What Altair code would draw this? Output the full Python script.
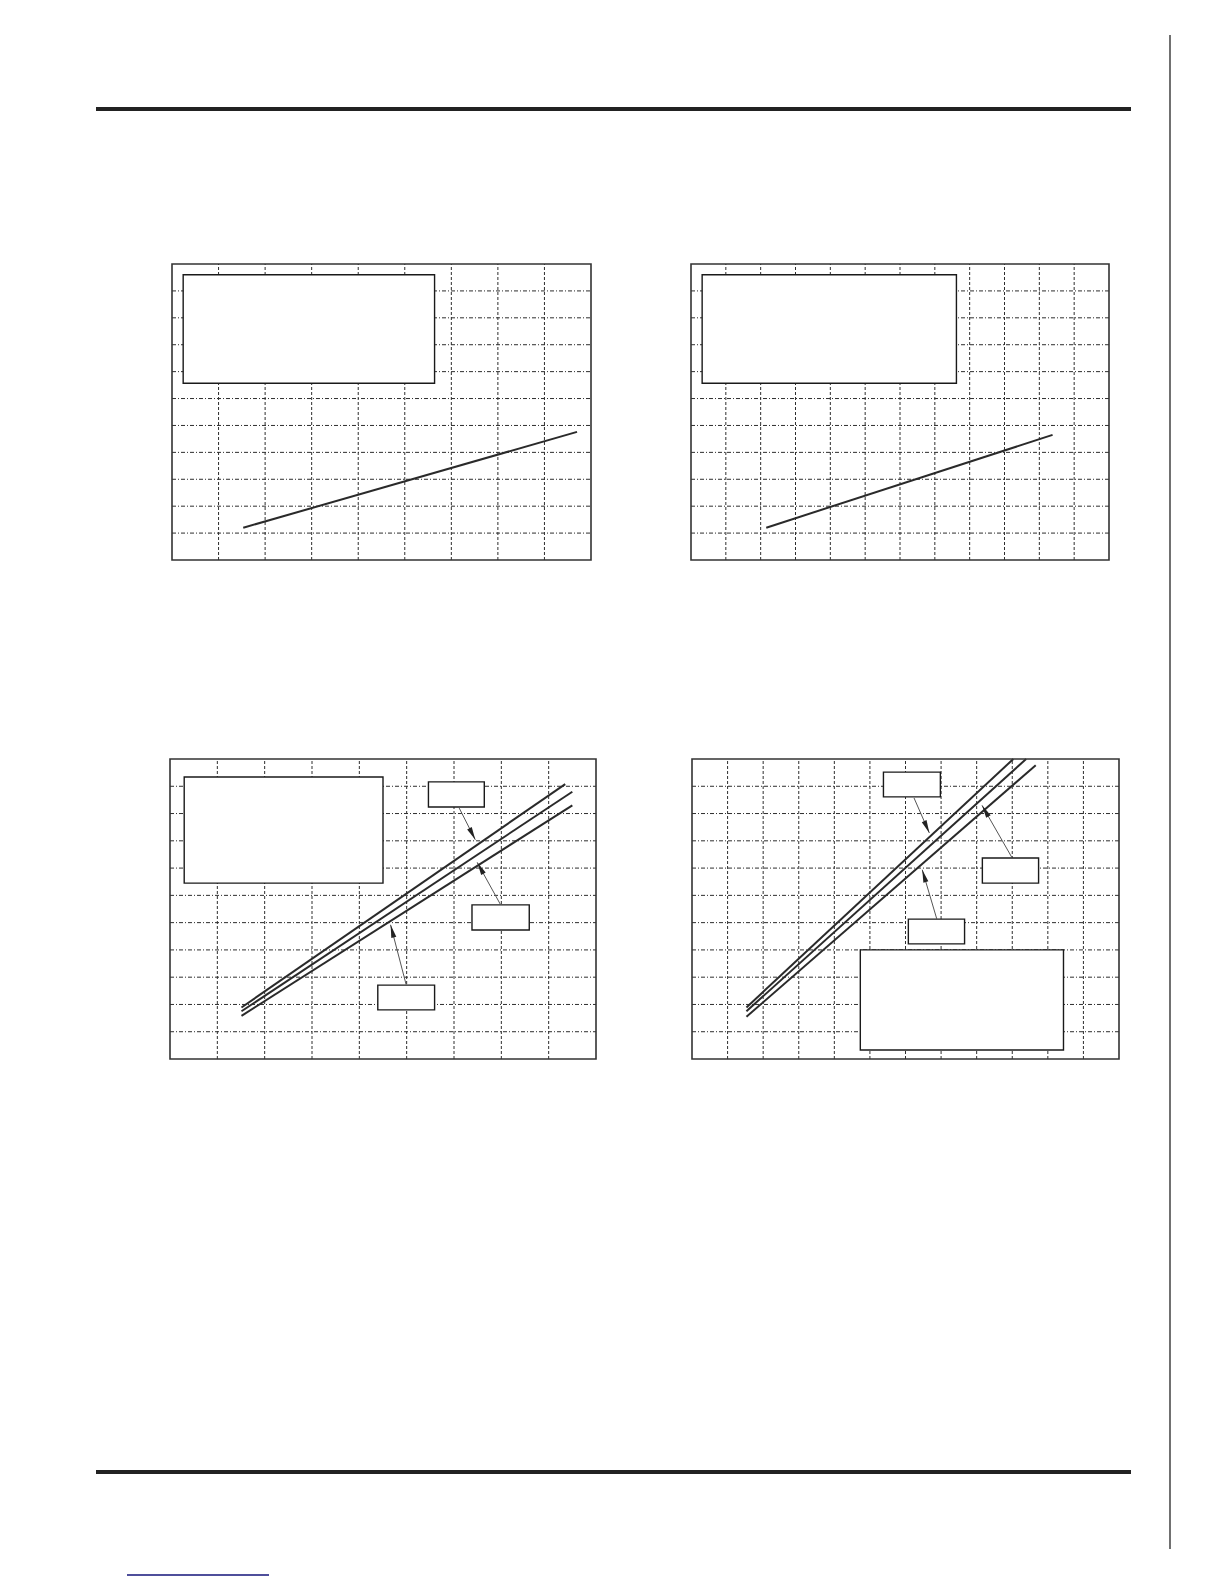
import math
import altair as alt
import pandas as pd

# ---------------- data (grid units) ----------------
# panel order: top-left, top-right, bottom-left, bottom-right
panel_cols = [9, 12, 9, 12]
panel_rows = [11, 11, 11, 11]

# line series: id, x, y (two end points each)
tl_line_id = ["a", "a"]
tl_line_x = [1.53, 8.70]
tl_line_y = [1.20, 4.76]

tr_line_id = ["a", "a"]
tr_line_x = [2.16, 10.38]
tr_line_y = [1.20, 4.65]

bl_line_id = ["a", "a", "b", "b", "c", "c"]
bl_line_x = [1.51, 8.35, 1.51, 8.50, 1.51, 8.50]
bl_line_y = [1.89, 10.08, 1.75, 9.80, 1.58, 9.30]

br_line_id = ["a", "a", "b", "b", "c", "c"]
br_line_x = [1.53, 9.03, 1.53, 9.39, 1.53, 9.66]
br_line_y = [1.89, 11.00, 1.75, 11.00, 1.55, 10.77]

# legend / label boxes: x0, x1, y0, y1
tl_box_x0 = [0.24]; tl_box_x1 = [5.64]; tl_box_y0 = [6.57]; tl_box_y1 = [10.60]
tr_box_x0 = [0.32]; tr_box_x1 = [7.62]; tr_box_y0 = [6.57]; tr_box_y1 = [10.60]
bl_box_x0 = [0.30, 5.46, 6.38, 4.39]
bl_box_x1 = [4.50, 6.64, 7.59, 5.59]
bl_box_y0 = [6.45, 9.24, 4.73, 1.80]
bl_box_y1 = [10.34, 10.16, 5.65, 2.71]
br_box_x0 = [4.73, 5.38, 8.16, 6.08]
br_box_x1 = [10.44, 6.98, 9.74, 7.66]
br_box_y0 = [0.33, 9.61, 6.45, 4.22]
br_box_y1 = [4.00, 10.52, 7.37, 5.13]

# callout arrows: from (x0, y0) to tip (x1, y1)
bl_arr_x0 = [6.11, 6.98, 4.99]
bl_arr_y0 = [9.20, 5.67, 2.72]
bl_arr_x1 = [6.45, 6.49, 4.66]
bl_arr_y1 = [8.04, 7.21, 4.92]
br_arr_x0 = [6.24, 8.99, 6.88]
br_arr_y0 = [9.57, 7.39, 5.13]
br_arr_x1 = [6.67, 8.15, 6.47]
br_arr_y1 = [8.29, 9.30, 6.94]

# ---------------- layout (chart pixel positions of each panel) ----------------
panel_x_range = [[164, 583], [683, 1101], [162, 588], [684, 1111]]
panel_y_range = [[552, 256], [552, 256], [1051, 751], [1051, 751]]

GRID = "#2e2e2e"
INK = "#2a2a2a"
HEAD_PATH = "M0,0L0.32,1.6L-0.32,1.6Z"


def panel(i, lid, lx, ly, bx0, bx1, by0, by1, ax0=None, ay0=None, ax1=None, ay1=None):
    nc, nr = panel_cols[i], panel_rows[i]
    xr, yr = panel_x_range[i], panel_y_range[i]

    def X(f):
        return alt.X(f, type="quantitative", axis=None,
                     scale=alt.Scale(domain=[0, nc], range=xr, nice=False, zero=False))

    def Y(f):
        return alt.Y(f, type="quantitative", axis=None,
                     scale=alt.Scale(domain=[0, nr], range=yr, nice=False, zero=False))

    vdf = pd.DataFrame({"gx": list(range(1, nc)), "g0": 0, "g1": nr})
    hdf = pd.DataFrame({"gy": list(range(1, nr)), "g0": 0, "g1": nc})
    layers = []
    layers.append(alt.Chart(vdf).mark_rule(stroke=GRID, strokeWidth=1, strokeDash=[3, 2])
                  .encode(x=X("gx"), y=Y("g0"), y2="g1:Q"))
    layers.append(alt.Chart(hdf).mark_rule(stroke=GRID, strokeWidth=1, strokeDash=[4, 2, 1, 2])
                  .encode(y=Y("gy"), x=X("g0"), x2="g1:Q"))

    ldf = pd.DataFrame({"id": lid, "x": lx, "y": ly})
    layers.append(alt.Chart(ldf).mark_line(color=INK, strokeWidth=2)
                  .encode(x=X("x"), y=Y("y"), detail="id:N"))

    bdf = pd.DataFrame({"bx0": bx0, "bx1": bx1, "by0": by0, "by1": by1})
    layers.append(alt.Chart(bdf).mark_rect(fill="white", stroke="#1a1a1a", strokeWidth=1.4)
                  .encode(x=X("bx0"), x2="bx1:Q", y=Y("by0"), y2="by1:Q"))

    if ax0 is not None:
        sx = (xr[1] - xr[0]) / nc
        sy = (yr[0] - yr[1]) / nr
        ang = []
        for a, b, c, d in zip(ax0, ay0, ax1, ay1):
            dx = (c - a) * sx
            dy_up = (d - b) * sy
            ang.append(math.degrees(math.atan2(dx, dy_up)) % 360)
        adf = pd.DataFrame({"ax0": ax0, "ay0": ay0, "ax1": ax1, "ay1": ay1, "ang": ang})
        layers.append(alt.Chart(adf).mark_rule(color="#555555", strokeWidth=1)
                      .encode(x=X("ax0"), y=Y("ay0"), x2="ax1:Q", y2="ay1:Q"))
        layers.append(alt.Chart(adf).mark_point(shape=HEAD_PATH, filled=True, size=260,
                                                color="#222222", opacity=1, strokeWidth=0)
                      .encode(x=X("ax1"), y=Y("ay1"), angle=alt.Angle("ang:Q", scale=None)))

    fdf = pd.DataFrame({"f0": [0], "f1": [nc], "h0": [0], "h1": [nr]})
    layers.append(alt.Chart(fdf).mark_rect(fillOpacity=0, stroke="#333333", strokeWidth=1.6)
                  .encode(x=X("f0"), x2="f1:Q", y=Y("h0"), y2="h1:Q"))
    return layers


dummy = pd.DataFrame({"k": [0]})
deco = [
    alt.Chart(dummy).mark_rule(color="#222222", strokeWidth=4)
    .encode(x=alt.value(88), x2=alt.value(1123), y=alt.value(101)),
    alt.Chart(dummy).mark_rule(color="#222222", strokeWidth=4)
    .encode(x=alt.value(88), x2=alt.value(1123), y=alt.value(1464)),
    alt.Chart(dummy).mark_rule(color="#111111", strokeWidth=1.2)
    .encode(x=alt.value(1162), y=alt.value(27), y2=alt.value(1541)),
    alt.Chart(dummy).mark_rule(color="#14147a", strokeWidth=1.6)
    .encode(x=alt.value(119), x2=alt.value(261), y=alt.value(1567)),
]

layers = []
layers += panel(0, tl_line_id, tl_line_x, tl_line_y, tl_box_x0, tl_box_x1, tl_box_y0, tl_box_y1)
layers += panel(1, tr_line_id, tr_line_x, tr_line_y, tr_box_x0, tr_box_x1, tr_box_y0, tr_box_y1)
layers += panel(2, bl_line_id, bl_line_x, bl_line_y, bl_box_x0, bl_box_x1, bl_box_y0, bl_box_y1,
                bl_arr_x0, bl_arr_y0, bl_arr_x1, bl_arr_y1)
layers += panel(3, br_line_id, br_line_x, br_line_y, br_box_x0, br_box_x1, br_box_y0, br_box_y1,
                br_arr_x0, br_arr_y0, br_arr_x1, br_arr_y1)
layers += deco

chart = (
    alt.layer(*layers)
    .resolve_scale(x="independent", y="independent")
    .properties(width=1208, height=1568, padding=0,
                autosize=alt.AutoSizeParams(type="none"), background="white")
    .configure_view(strokeWidth=0)
)

chart.save("out.html", embed_options={"renderer": "svg", "actions": False})
